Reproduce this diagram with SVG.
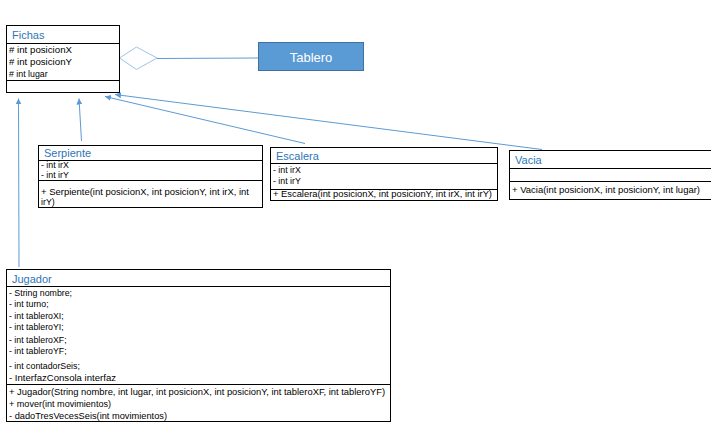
<svg xmlns="http://www.w3.org/2000/svg" width="711" height="433" viewBox="0 0 711 433">
<defs>
<marker id="arr" markerUnits="userSpaceOnUse" markerWidth="8" markerHeight="8" refX="6" refY="3" orient="auto">
<path d="M0,0 L6,3 L0,6 z" fill="#5B9BD5"/>
</marker>
</defs>
<style>
.box{fill:#fff;stroke:#000;stroke-width:1}
.sep{stroke:#000;stroke-width:1}
.t{font-family:"Liberation Sans",Arial,sans-serif;font-size:11px;fill:#2E75B6}
.m{font-family:"Liberation Sans",Arial,sans-serif;font-size:8.8px;fill:#000}
.c{stroke:#5B9BD5;stroke-width:1;fill:none}
</style>
<rect width="711" height="433" fill="#fff"/>
<g id="connectors">
<line class="c" x1="19" y1="267" x2="18.5" y2="98.5" marker-end="url(#arr)"/>
<line class="c" x1="81.5" y1="141" x2="79" y2="98.5" marker-end="url(#arr)"/>
<line class="c" x1="305" y1="143.5" x2="105" y2="96.5" marker-end="url(#arr)"/>
<line class="c" x1="542" y1="149.5" x2="115" y2="94.5" marker-end="url(#arr)"/>
<line x1="157" y1="58.5" x2="258" y2="58" stroke="#5B9BD5" stroke-width="1"/>
<path d="M119.5,58 L136.5,47 L157,58 L136.5,69.5 Z" fill="#fff" stroke="#9DC3E6" stroke-width="1"/>
</g>
<g id="Tablero">
<rect x="258.5" y="42.5" width="105" height="28" fill="#5B9BD5" stroke="#41719C" stroke-width="1"/>
<text x="311" y="61.5" text-anchor="middle" font-family="Liberation Sans,Arial,sans-serif" font-size="13" fill="#fff">Tablero</text>
</g>
<g id="Fichas">
<rect class="box" x="6.5" y="25.5" width="113" height="67"/>
<line class="sep" x1="6.5" y1="43.5" x2="119.5" y2="43.5"/>
<line class="sep" x1="6.5" y1="80.5" x2="119.5" y2="80.5"/>
<text class="t" x="12" y="38.5">Fichas</text>
<text class="m" x="9" y="52.5" textLength="63" lengthAdjust="spacingAndGlyphs"># int posicionX</text>
<text class="m" x="9" y="64.5" textLength="63" lengthAdjust="spacingAndGlyphs"># int posicionY</text>
<text class="m" x="9" y="76.5"># int lugar</text>
</g>
<g id="Serpiente">
<rect class="box" x="38.5" y="145.5" width="224" height="62"/>
<line class="sep" x1="38.5" y1="160.5" x2="262.5" y2="160.5"/>
<line class="sep" x1="38.5" y1="180.5" x2="262.5" y2="180.5"/>
<text class="t" x="44" y="156.5">Serpiente</text>
<text class="m" x="41" y="168">- int irX</text>
<text class="m" x="41" y="178">- int irY</text>
<text class="m" x="41" y="195" textLength="208" lengthAdjust="spacingAndGlyphs">+ Serpiente(int posicionX, int posicionY, int irX, int</text>
<text class="m" x="41" y="205">irY)</text>
</g>
<g id="Escalera">
<rect class="box" x="270.5" y="147.5" width="227" height="53"/>
<line class="sep" x1="270.5" y1="163.5" x2="497.5" y2="163.5"/>
<line class="sep" x1="270.5" y1="189.5" x2="497.5" y2="189.5"/>
<text class="t" x="276" y="159.5">Escalera</text>
<text class="m" x="273" y="172.5">- int irX</text>
<text class="m" x="273" y="183.5">- int irY</text>
<text class="m" x="273" y="196.5" textLength="219" lengthAdjust="spacingAndGlyphs">+ Escalera(int posicionX, int posicionY, int irX, int irY)</text>
</g>
<g id="Vacia">
<rect class="box" x="509.5" y="150.5" width="210" height="49"/>
<line class="sep" x1="509.5" y1="168.5" x2="719.5" y2="168.5"/>
<line class="sep" x1="509.5" y1="181.5" x2="719.5" y2="181.5"/>
<text class="t" x="515" y="163.5">Vacia</text>
<text class="m" x="512" y="192.5" textLength="188" lengthAdjust="spacingAndGlyphs">+ Vacia(int posicionX, int posicionY, int lugar)</text>
</g>
<g id="Jugador">
<rect class="box" x="6.5" y="269.5" width="384" height="152"/>
<line class="sep" x1="6.5" y1="286.5" x2="390.5" y2="286.5"/>
<line class="sep" x1="6.5" y1="384.5" x2="390.5" y2="384.5"/>
<text class="t" x="12" y="282.5">Jugador</text>
<text class="m" x="9" y="296">- String nombre;</text>
<text class="m" x="9" y="307">- int turno;</text>
<text class="m" x="9" y="319">- int tableroXI;</text>
<text class="m" x="9" y="330">- int tableroYI;</text>
<text class="m" x="9" y="343">- int tableroXF;</text>
<text class="m" x="9" y="354">- int tableroYF;</text>
<text class="m" x="9" y="369">- int contadorSeis;</text>
<text class="m" x="9" y="380.5" textLength="107" lengthAdjust="spacingAndGlyphs">- InterfazConsola interfaz</text>
<text class="m" x="9" y="394.5" textLength="376" lengthAdjust="spacingAndGlyphs">+ Jugador(String nombre, int lugar, int posicionX, int posicionY, int tableroXF, int tableroYF)</text>
<text class="m" x="9" y="406.5" textLength="102" lengthAdjust="spacingAndGlyphs">+ mover(int movimientos)</text>
<text class="m" x="9" y="418.5" textLength="158" lengthAdjust="spacingAndGlyphs">- dadoTresVecesSeis(int movimientos)</text>
</g>
</svg>
